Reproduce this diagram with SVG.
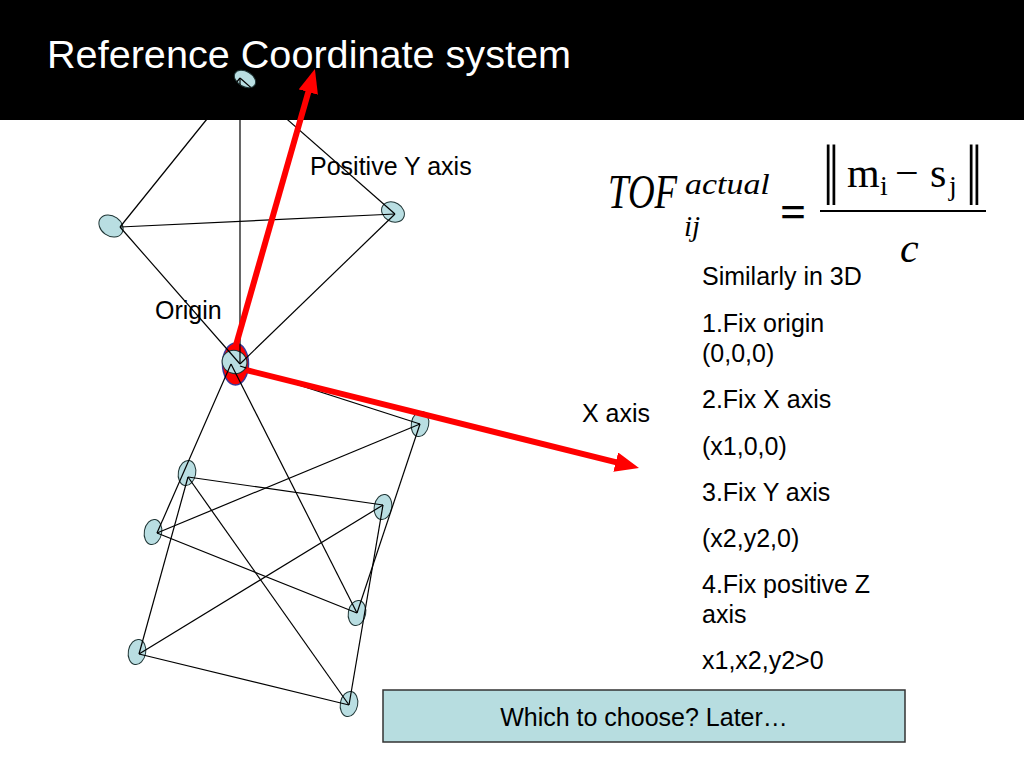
<svg xmlns="http://www.w3.org/2000/svg" width="1024" height="768" viewBox="0 0 1024 768">
<defs>
<style>
.node{fill:#b9dee2;stroke:#1e3434;stroke-width:1}
.edge{stroke:#000;stroke-width:1.2;fill:none}
.axis{stroke:#ff0000;stroke-width:6;fill:none}
.lbl{font-family:"Liberation Sans",Arial,sans-serif;font-size:25px;fill:#000}
.math{font-family:"Liberation Serif","DejaVu Serif",serif;fill:#000}
</style>
<marker id="head" markerUnits="userSpaceOnUse" markerWidth="26" markerHeight="22" refX="4" refY="10" orient="auto">
<path d="M0,0 L24,10 L0,20 z" fill="#ff0000"/>
</marker>
<clipPath id="belowbar">
<rect x="0" y="120" width="1024" height="648"/>
<ellipse cx="245" cy="79" rx="11.5" ry="7.5" transform="rotate(30 245 79)"/>
</clipPath>
</defs>
<rect width="1024" height="768" fill="#ffffff"/>
<rect id="titlebar" x="0" y="0" width="1024" height="120" fill="#000000"/>
<text x="47" y="68" font-family="Liberation Sans,Arial,sans-serif" font-size="38" fill="#ffffff" textLength="524" lengthAdjust="spacingAndGlyphs">Reference Coordinate system</text>
<g id="n1"><ellipse class="node" cx="245" cy="79" rx="11.5" ry="7.5" transform="rotate(30 245 79)"/></g>
<g id="n2"><ellipse class="node" cx="111" cy="226" rx="13" ry="10" transform="rotate(35 111 226)"/></g>
<g id="n3"><ellipse class="node" cx="393" cy="212" rx="12" ry="9.5" transform="rotate(30 393 212)"/></g>
<g id="origin">
<ellipse cx="235.5" cy="364" rx="13" ry="21" fill="#ff0000" stroke="#3a3a9a" stroke-width="1.5"/>
<ellipse class="node" cx="234.5" cy="362" rx="12.5" ry="11.5" transform="rotate(20 234.5 362)"/>
</g>
<g id="na"><ellipse class="node" cx="187" cy="473" rx="8.7" ry="12.7" transform="rotate(10 187 473)"/></g>
<g id="nb"><ellipse class="node" cx="153" cy="532" rx="8.7" ry="12.7" transform="rotate(10 153 532)"/></g>
<g id="nc"><ellipse class="node" cx="383" cy="507" rx="8.7" ry="12.7" transform="rotate(10 383 507)"/></g>
<g id="nd"><ellipse class="node" cx="357" cy="613" rx="8.7" ry="12.7" transform="rotate(10 357 613)"/></g>
<g id="ne"><ellipse class="node" cx="137" cy="652" rx="8.7" ry="12.7" transform="rotate(10 137 652)"/></g>
<g id="nf"><ellipse class="node" cx="349" cy="704" rx="8.7" ry="12.7" transform="rotate(10 349 704)"/></g>
<g id="ng"><ellipse class="node" cx="420" cy="424" rx="8.7" ry="12.7" transform="rotate(10 420 424)"/></g>
<g id="connectors" clip-path="url(#belowbar)">
<line class="edge" x1="240" y1="78" x2="120" y2="227"/>
<line class="edge" x1="240" y1="78" x2="395" y2="214"/>
<line class="edge" x1="240" y1="78" x2="240" y2="364"/>
<line class="edge" x1="120" y1="227" x2="395" y2="214"/>
<line class="edge" x1="120" y1="227" x2="240" y2="364"/>
<line class="edge" x1="395" y1="214" x2="240" y2="364"/>
<line class="edge" x1="231" y1="364" x2="157" y2="533"/>
<line class="edge" x1="231" y1="364" x2="357" y2="613"/>
<line class="edge" x1="240" y1="366" x2="420" y2="424"/>
<line class="edge" x1="188" y1="477" x2="139" y2="654"/>
<line class="edge" x1="188" y1="477" x2="383" y2="505"/>
<line class="edge" x1="188" y1="477" x2="349" y2="705"/>
<line class="edge" x1="157" y1="533" x2="420" y2="424"/>
<line class="edge" x1="157" y1="533" x2="357" y2="613"/>
<line class="edge" x1="383" y1="505" x2="139" y2="654"/>
<line class="edge" x1="383" y1="505" x2="349" y2="705"/>
<line class="edge" x1="420" y1="424" x2="357" y2="613"/>
<line class="edge" x1="139" y1="654" x2="349" y2="705"/>
</g>
<g id="axes">
<line class="axis" x1="236" y1="345" x2="309.4" y2="88.2" marker-end="url(#head)"/>
<line class="axis" x1="246" y1="370" x2="619.6" y2="463.1" marker-end="url(#head)"/>
</g>
<text class="lbl" x="310" y="175">Positive Y axis</text>
<text class="lbl" x="155" y="319">Origin</text>
<text class="lbl" x="582" y="422">X axis</text>
<g id="formula">
<text class="math" transform="translate(608,208) scale(0.77,1)" x="0" y="0" font-size="48" font-style="italic">TOF</text>
<text class="math" transform="translate(685,194) scale(1.17,1)" x="0" y="0" font-size="29" font-style="italic">actual</text>
<text class="math" x="684" y="236" font-size="29" font-style="italic">ij</text>
<text class="math" x="780" y="227" font-size="46" font-weight="bold">=</text>
<line x1="820" y1="211" x2="986" y2="211" stroke="#000" stroke-width="2"/>
<text class="math" transform="translate(823,205) scale(1.1,1.667)" x="0" y="0" font-size="52">‖</text>
<text class="math" x="847" y="187" font-size="42">m</text>
<text class="math" x="880" y="195" font-size="28">i</text>
<text class="math" x="895" y="187" font-size="42">−</text>
<text class="math" x="930" y="187" font-size="42">s</text>
<text class="math" x="949" y="195" font-size="28">j</text>
<text class="math" transform="translate(966,205) scale(1.1,1.667)" x="0" y="0" font-size="52">‖</text>
<text class="math" x="900" y="262" font-size="42" font-style="italic">c</text>
</g>
<g id="steps">
<text class="lbl" x="702" y="285">Similarly in 3D</text>
<text class="lbl" x="702" y="332">1.Fix origin</text>
<text class="lbl" x="702" y="362">(0,0,0)</text>
<text class="lbl" x="702" y="408">2.Fix X axis</text>
<text class="lbl" x="702" y="455">(x1,0,0)</text>
<text class="lbl" x="702" y="501">3.Fix Y axis</text>
<text class="lbl" x="702" y="547">(x2,y2,0)</text>
<text class="lbl" x="702" y="593">4.Fix positive Z</text>
<text class="lbl" x="702" y="623">axis</text>
<text class="lbl" x="702" y="669">x1,x2,y2&gt;0</text>
</g>
<g id="note">
<rect x="383" y="690" width="522" height="52" fill="#b7dde0" stroke="#333333" stroke-width="1.5"/>
<text class="lbl" x="644" y="726" text-anchor="middle">Which to choose? Later…</text>
</g>
</svg>
